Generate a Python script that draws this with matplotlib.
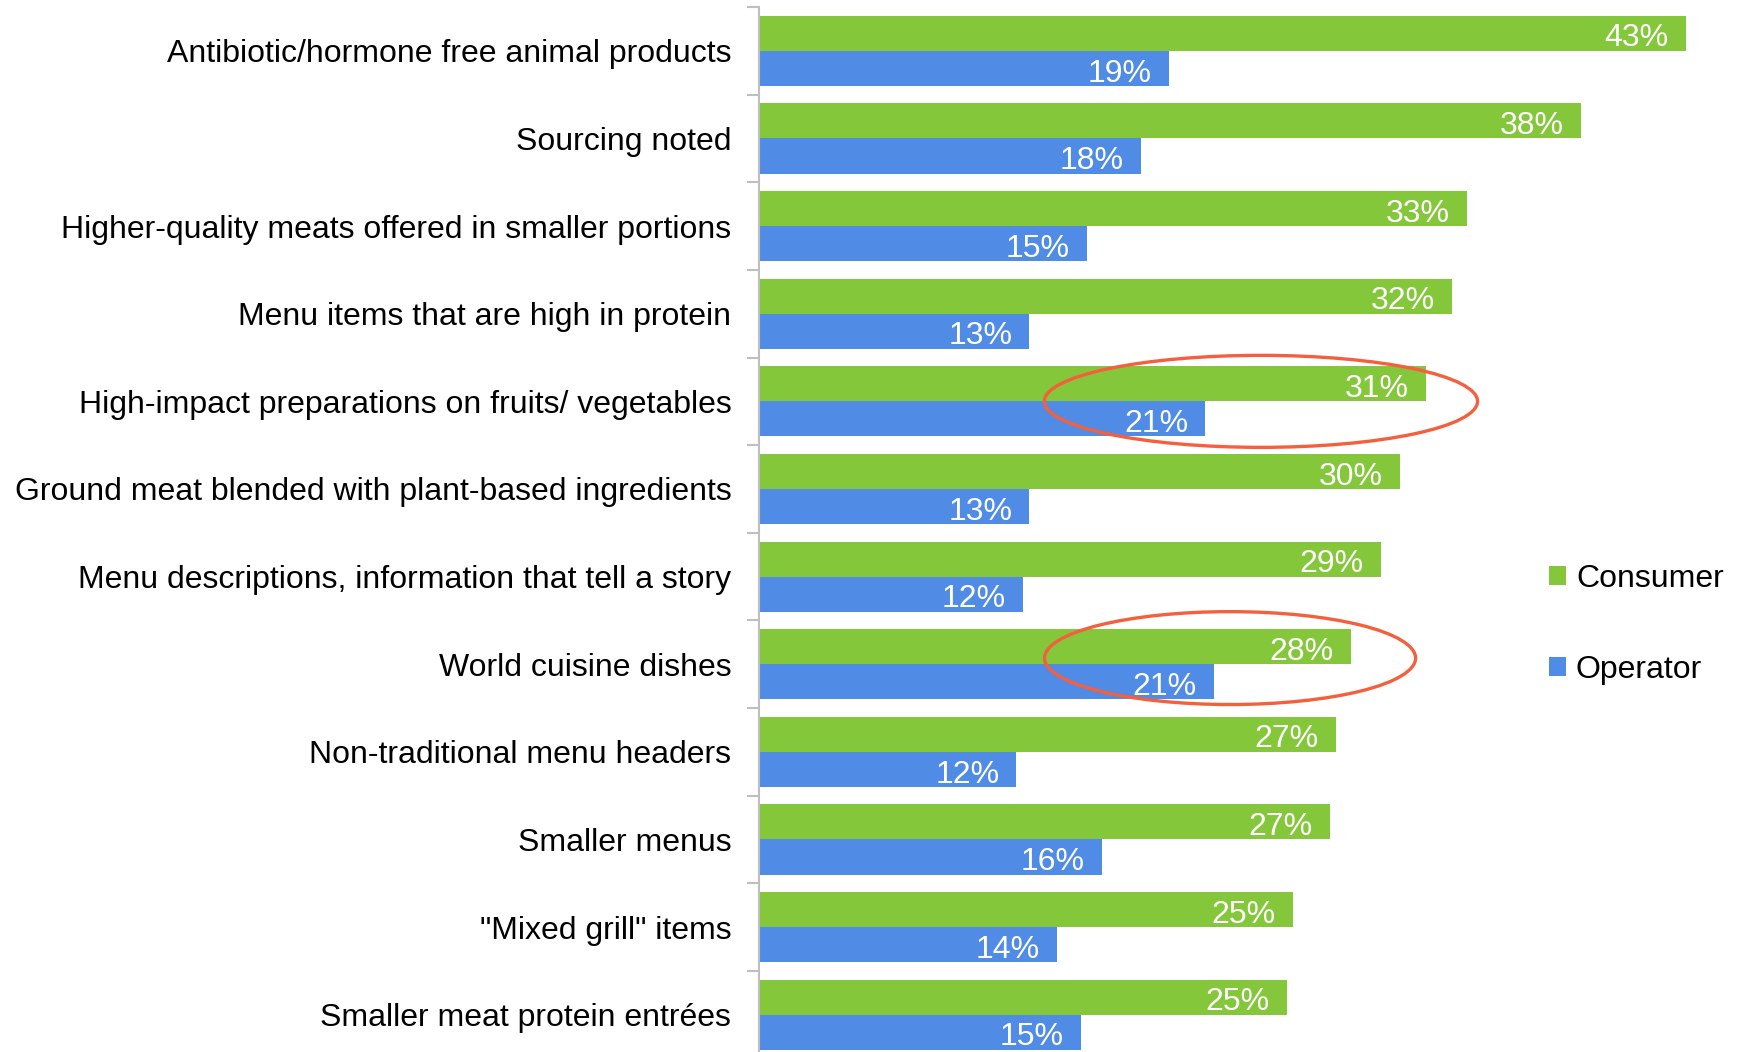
import numpy as np
import matplotlib.pyplot as plt
from matplotlib.patches import Ellipse

plt.rcParams['font.family'] = ['Liberation Sans', 'DejaVu Sans']

categories = [
    "Antibiotic/hormone free animal products",
    "Sourcing noted",
    "Higher-quality meats offered in smaller portions",
    "Menu items that are high in protein",
    "High-impact preparations on fruits/ vegetables",
    "Ground meat blended with plant-based ingredients",
    "Menu descriptions, information that tell a story",
    "World cuisine dishes",
    "Non-traditional menu headers",
    "Smaller menus",
    "\"Mixed grill\" items",
    "Smaller meat protein entrées",
]
# values (labels show them rounded)
consumer = [43.2, 38.3, 33.0, 32.3, 31.1, 29.9, 29.0, 27.6, 26.9, 26.6, 24.9, 24.6]
operator = [19.1, 17.8, 15.3, 12.6, 20.8, 12.6, 12.3, 21.2, 12.0, 16.0, 13.9, 15.0]

GREEN = '#84c73a'
BLUE = '#508be6'
RED = '#f4603d'

fig = plt.figure(figsize=(17.39, 10.52), dpi=100)
ax = fig.add_axes([0.4365, -0.0062, 0.5635, 0.9995])

n = len(categories)
y = np.arange(n)
h = 0.4

ax.barh(y - h / 2, consumer, height=h, color=GREEN, label='Consumer')
ax.barh(y + h / 2, operator, height=h, color=BLUE, label='Operator')

for yi, c, o in zip(y, consumer, operator):
    ax.text(c - 0.8, yi - h / 2 + 0.15, f"{c:.0f}%", color='white', fontsize=23,
            ha='right', va='baseline')
    ax.text(o - 0.8, yi + h / 2 + 0.15, f"{o:.0f}%", color='white', fontsize=23,
            ha='right', va='baseline')

# highlight ellipses
ax.add_patch(Ellipse((23.4, 4.0), 20.2, 1.05, fill=False, edgecolor=RED, lw=2.4))
ax.add_patch(Ellipse((21.96, 6.93), 17.3, 1.06, fill=False, edgecolor=RED, lw=2.4))

ax.set_xlim(0, 45.69)
ax.set_ylim(n - 0.5, -0.5)

ax.set_yticks(y)
ax.set_yticklabels(categories, fontsize=23)
ax.set_yticks(np.arange(n + 1) - 0.5, minor=True)
ax.tick_params(axis='y', which='major', length=0, pad=20)
ax.tick_params(axis='y', which='minor', length=9, color='#bfbfbf', width=1.5)
ax.set_xticks([])

for s in ['top', 'right', 'bottom']:
    ax.spines[s].set_visible(False)
ax.spines['left'].set_color('#bfbfbf')
ax.spines['left'].set_linewidth(1.5)

ax.legend(loc='center left', bbox_to_anchor=(0.7765, 0.413), frameon=False,
          fontsize=23, handlelength=0.55, handleheight=0.55, handletextpad=0.3,
          labelspacing=1.9)

fig.savefig('out.png', dpi=100)
